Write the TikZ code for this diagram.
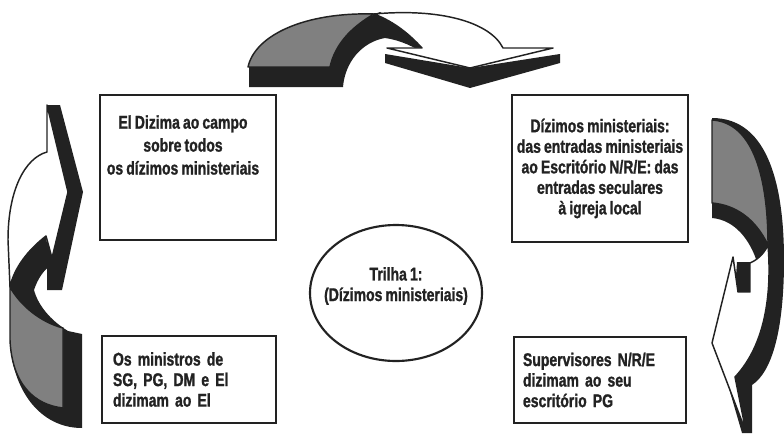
\documentclass[tikz,border=0pt]{standalone}
\usepackage{fontspec}
\setmainfont[FakeStretch=0.76, FakeBold=1.2, WordSpace=0.8]{Liberation Sans Bold}
\usetikzlibrary{shapes.geometric}
\definecolor{ink}{HTML}{222222}
\definecolor{midgray}{HTML}{808080}
\begin{document}
\begin{tikzpicture}[x=0.75pt,y=-0.75pt,
  box/.style={draw=ink, line width=2pt, fill=white, inner sep=0pt},
  txt/.style={font=\fontsize{13.8}{15.4}\selectfont, text=ink},
  face/.style={draw=ink, line width=1.1pt, line join=round}
]
\useasboundingbox (0,0) rectangle (784,435);

% ---------- top arrow ----------
\fill[ink] (249,67) -- (249,87) -- (343,87) .. controls (345,62) and (362,42) .. (385,38)
  .. controls (400,40) and (415,47) .. (426,55) -- (430,45) -- (380,12)
  .. controls (350,25) and (332,45) .. (330,67) -- cycle;
\fill[ink] (385,54) -- (470,68) -- (560,54) -- (560,63) -- (470,88) -- (385,63) -- cycle;
\draw[face, fill=midgray] (248,67) .. controls (255,35) and (305,12) .. (374,14)
  .. controls (350,28) and (335,45) .. (330,67) -- cycle;
\draw[face, fill=white] (374,14) .. controls (440,8) and (490,22) .. (503,48) -- (553,48)
  -- (470,68) -- (387,48) -- (422,48) .. controls (410,35) and (395,22) .. (374,14) -- cycle;

% ---------- left arrow ----------
\fill[ink] (47,105) -- (60,105) -- (83,192) -- (62,290) -- (47,290) -- cycle;
\fill[ink] (46,236) .. controls (28,250) and (14,268) .. (10,287) -- (10,340)
  .. controls (12,390) and (40,428) .. (82,428) -- (82,334) -- (68,331)
  .. controls (50,320) and (38,305) .. (34,290) .. controls (38,278) and (44,270) .. (50,266) -- cycle;
\draw[face, fill=midgray] (10,287) .. controls (20,305) and (40,322) .. (63,328) -- (63,408)
  .. controls (35,405) and (12,385) .. (10,340) -- cycle;
\draw[face, fill=white] (47,105) -- (68,192) -- (52,258) -- (46,236)
  .. controls (28,250) and (14,268) .. (10,287) -- (8,240)
  .. controls (8,190) and (25,158) .. (47,152) -- cycle;

% ---------- right arrow ----------
\fill[ink] (712,118) .. controls (770,118) and (784,190) .. (784,260)
  .. controls (784,330) and (772,372) .. (752,385) -- (752,433) -- (742,433) -- (728,385)
  -- (737,262) -- (757,262) .. controls (750,240) and (735,220) .. (712,218) -- cycle;
\draw[face, fill=midgray] (712,120) .. controls (750,122) and (768,170) .. (768,245)
  .. controls (755,218) and (735,205) .. (712,203) -- cycle;
\draw[face, fill=white] (768,245) .. controls (772,295) and (765,345) .. (735,377) -- (746,432)
  -- (712,343) -- (733,257) -- (738,292) -- (750,292) -- (750,263)
  .. controls (757,260) and (764,254) .. (768,245) -- cycle;

% ---------- boxes ----------
\node[box, minimum width=132pt, minimum height=108.75pt] (tl) at (188,167.5) {};
\node[txt, align=center, font=\fontsize{13.8}{17.2}\selectfont] (tltext) at (183,145)
  {El Dizima ao campo\\sobre todos\\os dízimos ministeriais};

\node[box, txt, align=center, minimum width=132pt, minimum height=110.25pt] (tr) at (600,168.5)
  {Dízimos ministeriais:\\das entradas ministeriais\\ao Escritório N/R/E: das\\entradas seculares\\à igreja local};

\node[box, txt, align=left, text width=114pt, minimum width=130.5pt, minimum height=65.25pt] (bl) at (189,379.5)
  {Os ministros de\\SG, PG, DM e El\\dizimam ao El};

\node[box, txt, align=left, text width=115.5pt, minimum width=129pt, minimum height=64.5pt] (br) at (600,380)
  {Supervisores N/R/E\\dizimam ao seu\\escritório PG};

\node[ellipse, draw=ink, line width=1.6pt, fill=white, inner sep=0pt,
  minimum width=129pt, minimum height=102pt] (center) at (396,293) {};
\node[txt, align=center] (ctext) at (396,286) {Trilha 1:\\(Dízimos ministeriais)};
\end{tikzpicture}
\end{document}
